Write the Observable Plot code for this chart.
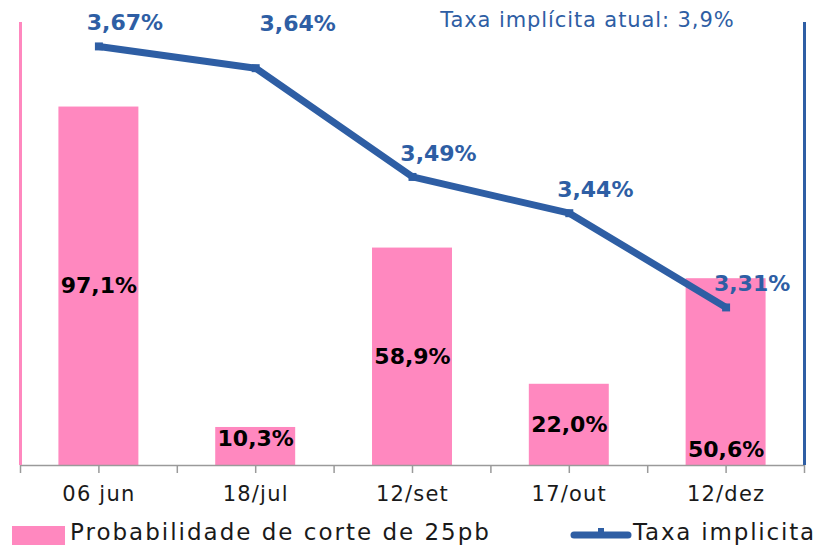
<!DOCTYPE html>
<html>
<head>
<meta charset="utf-8">
<script src="https://cdn.jsdelivr.net/npm/d3@7"></script>
<script src="https://cdn.jsdelivr.net/npm/@observablehq/plot@0.6"></script>
<style>
  html, body { margin: 0; padding: 0; background: #fff; }
  body { width: 820px; height: 549px; overflow: hidden; font-family: "DejaVu Sans", sans-serif; }
  #legend { position: relative; height: 39px; font-size: 23px; color: #1a1a1a; letter-spacing: 2px; }
  #legend .sw1 { position: absolute; left: 12px; top: 16px; width: 53px; height: 19px; background: #FF88BF; }
  #legend .t1 { position: absolute; left: 70px; top: 9px; }
  #legend .sw2 { position: absolute; left: 569px; top: 16px; }
  #legend .t2 { position: absolute; left: 633px; top: 9px; letter-spacing: 1.8px; }
  g[aria-label="x-axis tick label"] text { letter-spacing: 1.2px; }
  .anno text { letter-spacing: 0.9px; }
</style>
</head>
<body>
<div id="chart"></div>
<div id="legend">
  <div class="sw1"></div><div class="t1">Probabilidade de corte de 25pb</div>
  <svg class="sw2" width="64" height="16"><line x1="5" y1="9" x2="59" y2="9" stroke="#2E5EA4" stroke-width="7" stroke-linecap="round"/><rect x="29" y="2" width="6" height="6" fill="#2E5EA4"/></svg>
  <div class="t2">Taxa implicita</div>
</div>
<script>
const categories = ["06 jun", "18/jul", "12/set", "17/out", "12/dez"];
const probCorte = [97.1, 10.3, 58.9, 22.0, 50.6];
const taxaImplicita = [3.67, 3.64, 3.49, 3.44, 3.31];
const taxaAtualLabel = "Taxa implícita atual: 3,9%";

const pink = "#FF88BF";
const blue = "#2E5EA4";
const rateMin = 3.092, rateMax = 3.703, barMax = 120;
const toBar = v => (v - rateMin) / (rateMax - rateMin) * barMax;

const data = categories.map((c, i) => ({i, c, p: probCorte[i], r: taxaImplicita[i], rb: toBar(taxaImplicita[i])}));
const fmtP = v => v.toFixed(1).replace(".", ",") + "%";
const fmtR = v => v.toFixed(2).replace(".", ",") + "%";
const half = 0.255;
const font = "DejaVu Sans, sans-serif";

const chart = Plot.plot({
  width: 820,
  height: 510,
  marginTop: 22,
  marginBottom: 45,
  marginLeft: 20,
  marginRight: 16,
  style: {fontFamily: font, background: "white"},
  x: {domain: [-0.5, 4.5], axis: null},
  y: {domain: [0, barMax], axis: null},
  marks: [
    Plot.rectY(data, {x1: d => d.i - half, x2: d => d.i + half, y1: 0, y2: "p", fill: pink}),
    Plot.ruleY([0], {stroke: "#9a9a9a", strokeWidth: 1.5}),
    Plot.axisX({
      ticks: d3.range(-0.5, 4.51, 0.5),
      tickSize: 8,
      tickPadding: 13,
      stroke: "#9a9a9a",
      strokeWidth: 1.5,
      fontSize: 21,
      fill: "#1a1a1a",
      label: null,
      tickFormat: d => Number.isInteger(d) ? categories[d] : ""
    }),
    Plot.ruleX([-0.5], {y1: 0, y2: barMax, stroke: pink, strokeWidth: 3}),
    Plot.ruleX([4.5], {y1: 0, y2: barMax, stroke: blue, strokeWidth: 3}),
    Plot.text(data, {filter: d => d.i !== 1 && d.i !== 4, x: "i", y: d => d.p / 2, text: d => fmtP(d.p), fontSize: 22, fontWeight: "bold", fill: "#000"}),
    Plot.text(data, {filter: d => d.i === 1, x: "i", y: 0, dy: -27, text: d => fmtP(d.p), fontSize: 22, fontWeight: "bold", fill: "#000"}),
    Plot.text(data, {filter: d => d.i === 4, x: "i", y: 0, dy: -16, text: d => fmtP(d.p), fontSize: 22, fontWeight: "bold", fill: "#000"}),
    Plot.line(data, {x: "i", y: "rb", stroke: blue, strokeWidth: 7, strokeLinejoin: "round"}),
    Plot.dot(data, {x: "i", y: "rb", symbol: "square", r: 4.5, fill: blue}),
    Plot.text(data, {filter: d => d.i !== 1, x: "i", y: "rb", dx: 26, dy: -23, text: d => fmtR(d.r), fontSize: 22, fontWeight: "bold", fill: blue}),
    Plot.text(data, {filter: d => d.i === 1, x: "i", y: "rb", dx: 42, dy: -44, text: d => fmtR(d.r), fontSize: 22, fontWeight: "bold", fill: blue}),
    Plot.text([taxaAtualLabel], {className: "anno", frameAnchor: "top-right", dx: -70, dy: -2, lineAnchor: "middle", textAnchor: "end", text: d => d, fontSize: 21, fill: blue})
  ]
});
document.getElementById("chart").appendChild(chart);
</script>
</body>
</html>
